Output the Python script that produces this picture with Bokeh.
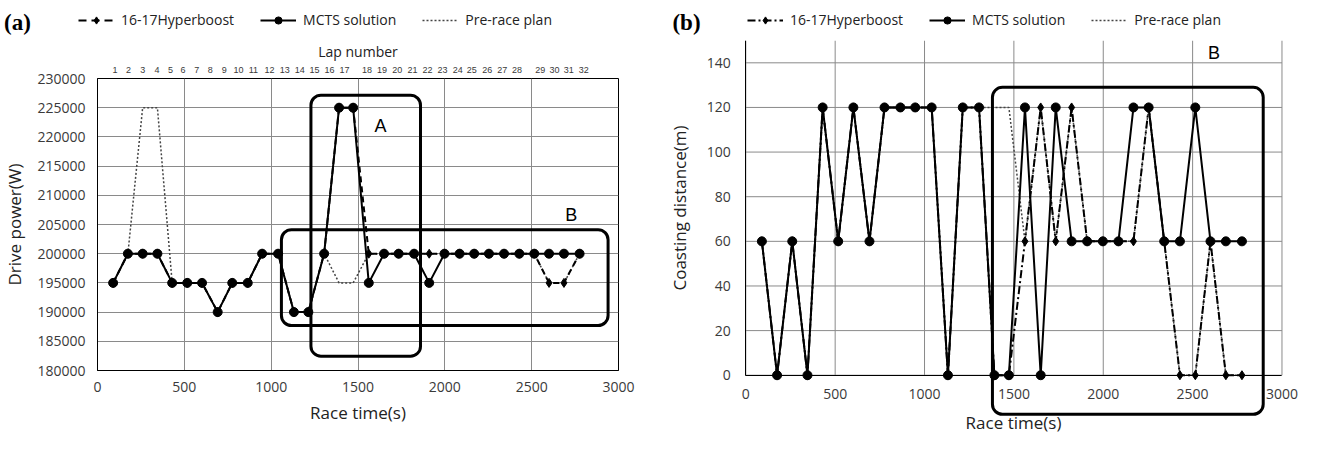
from bokeh.plotting import figure
from bokeh.models import (Range1d, FixedTicker, LinearAxis, BoxAnnotation, Label,
                          Legend, LegendItem, BasicTickFormatter)
from bokeh.layouts import row, column
from bokeh.embed import file_html
from bokeh.resources import INLINE

# ---------------- data ----------------
lap_times = [90, 175, 260, 345, 430, 517, 602, 692, 776, 865, 948, 1040, 1131, 1214, 1305, 1391,
             1472, 1562, 1650, 1734, 1823, 1910, 1998, 2085, 2169, 2254, 2341, 2429, 2515, 2600, 2686, 2776]
lap_numbers = [str(i) for i in range(1, 33)]
lap_label_x = [101, 178, 260, 342, 420, 493, 571, 649, 730, 812, 898, 990, 1078, 1164, 1250, 1336,
               1423, 1552, 1638, 1726, 1814, 1900, 1986, 2074, 2155, 2244, 2330, 2415, 2550, 2632, 2714, 2800]

power_mcts = [195000, 200000, 200000, 200000, 195000, 195000, 195000, 190000, 195000, 195000, 200000,
              200000, 190000, 190000, 200000, 225000, 225000, 195000, 200000, 200000, 200000, 195000,
              200000, 200000, 200000, 200000, 200000, 200000, 200000, 200000, 200000, 200000]
power_hyper = [195000, 200000, 200000, 200000, 195000, 195000, 195000, 190000, 195000, 195000, 200000,
               200000, 190000, 190000, 200000, 225000, 225000, 200000, 200000, 200000, 200000, 200000,
               200000, 200000, 200000, 200000, 200000, 200000, 200000, 195000, 195000, 200000]
power_plan = [195000, 200000, 225000, 225000, 195000, 195000, 195000, 190000, 195000, 195000, 200000,
              200000, 190000, 190000, 200000, 195000, 195000, 200000, 200000, 200000, 200000, 200000,
              200000, 200000, 200000, 200000, 200000, 200000, 200000, 195000, 195000, 200000]

coast_mcts = [60, 0, 60, 0, 120, 60, 120, 60, 120, 120, 120, 120, 0, 120, 120, 0,
              0, 120, 0, 120, 60, 60, 60, 60, 120, 120, 60, 60, 120, 60, 60, 60]
coast_hyper = [60, 0, 60, 0, 120, 60, 120, 60, 120, 120, 120, 120, 0, 120, 120, 0,
               0, 60, 120, 60, 120, 60, 60, 60, 60, 120, 60, 0, 0, 60, 0, 0]
coast_plan = [60, 0, 60, 0, 120, 60, 120, 60, 120, 120, 120, 120, 0, 120, 120, 120,
              120, 60, 120, 60, 120, 60, 60, 60, 60, 120, 60, 0, 0, 60, 0, 0]

x_ticks = [0, 500, 1000, 1500, 2000, 2500, 3000]
a_y_ticks = [180000, 185000, 190000, 195000, 200000, 205000, 210000, 215000, 220000, 225000, 230000]
b_y_ticks = [0, 20, 40, 60, 80, 100, 120, 140]
x_max = 3000
b_y_top = 150

series_names = ["16-17Hyperboost", "MCTS solution", "Pre-race plan"]

# annotation boxes (left, right, bottom, top) in data units
a_box_A = (1229, 1860, 182450, 227150)
a_box_B = (1059, 2940, 187700, 204100)
b_box_B = (1380, 2895, -17.5, 129)

# off-canvas anchor for the legend sample glyphs in the header strips
legend_anchor = [-1.0]

FONT = "Open Sans"
GRID = "#8a8a8a"
TXT = "#3a3a3a"


def style_axes(p):
    for ax in p.xaxis + p.yaxis:
        ax.major_tick_line_color = None
        ax.minor_tick_line_color = None
        ax.major_tick_out = 0
        ax.major_tick_in = 0
        ax.major_label_text_font = FONT
        ax.major_label_text_font_size = "14px"
        ax.major_label_text_color = TXT
        ax.axis_label_text_font = FONT
        ax.axis_label_text_font_size = "17px"
        ax.axis_label_text_font_style = "normal"
        ax.axis_label_text_color = "#222222"
        ax.axis_line_color = "black"


def make_header(tag, tag_x, legend_x, dash):
    h = figure(width=652, height=36, output_backend="svg", toolbar_location=None,
               x_range=Range1d(0, 1), y_range=Range1d(0, 1), x_axis_location=None,
               y_axis_location=None, min_border=0, frame_align=False)
    h.outline_line_color = None
    h.grid.visible = False
    r_h = h.line(legend_anchor, legend_anchor, line_color="black", line_width=2, line_dash=dash)
    r_hm = h.scatter(legend_anchor, legend_anchor, marker="diamond", size=9, color="black")
    r_m = h.line(legend_anchor, legend_anchor, line_color="black", line_width=2)
    r_mm = h.scatter(legend_anchor, legend_anchor, marker="circle", size=9, color="black")
    r_p = h.line(legend_anchor, legend_anchor, line_color="#444444", line_width=1.5, line_dash="2 2")
    leg = Legend(items=[LegendItem(label=series_names[0], renderers=[r_h, r_hm]),
                        LegendItem(label=series_names[1], renderers=[r_m, r_mm]),
                        LegendItem(label=series_names[2], renderers=[r_p])],
                 location=(legend_x, 7), orientation="horizontal",
                 glyph_width=36, glyph_height=18, label_standoff=7, spacing=26,
                 padding=0, margin=0, label_text_font=FONT, label_text_font_size="14px",
                 label_text_color="#222222", background_fill_alpha=0, border_line_alpha=0)
    h.add_layout(leg, "center")
    h.add_layout(Label(x=tag_x, y=14, x_units="screen", y_units="screen", text=tag,
                       text_font="Liberation Serif", text_font_size="23px", text_font_style="bold",
                       text_align="center", text_baseline="middle", text_color="black"))
    return h


# ---------------- panel (a) ----------------
ha = make_header("(a)", 17, 78, "8 5")

pa = figure(width=652, height=400, output_backend="svg", toolbar_location=None,
            x_range=Range1d(0, x_max), y_range=Range1d(180000, 230000), frame_align=False,
            min_border_left=93, min_border_right=34, min_border_top=42, min_border_bottom=66)
pa.xaxis.ticker = FixedTicker(ticks=x_ticks)
pa.yaxis.ticker = FixedTicker(ticks=a_y_ticks)
pa.yaxis.formatter = BasicTickFormatter(use_scientific=False)
pa.xaxis.axis_label = "Race time(s)"
pa.yaxis.axis_label = "Drive power(W)"
style_axes(pa)
pa.xaxis.major_label_standoff = 11
pa.xaxis.axis_label_standoff = 6
pa.yaxis.major_label_standoff = 12
pa.yaxis.axis_label_standoff = 8
pa.outline_line_color = "black"
pa.outline_line_width = 1
pa.xgrid.ticker = FixedTicker(ticks=x_ticks)
pa.ygrid.ticker = FixedTicker(ticks=a_y_ticks)
pa.grid.grid_line_color = GRID
pa.grid.grid_line_width = 1

top = LinearAxis(ticker=FixedTicker(ticks=lap_label_x),
                 major_label_overrides={v: n for v, n in zip(lap_label_x, lap_numbers)},
                 axis_label="Lap number")
top.axis_line_color = None
top.major_tick_line_color = None
top.minor_tick_line_color = None
top.major_tick_out = 0
top.major_tick_in = 0
top.major_label_standoff = 6
top.major_label_text_font = "Liberation Sans"
top.major_label_text_font_size = "9px"
top.major_label_text_color = TXT
top.axis_label_text_font = FONT
top.axis_label_text_font_size = "14px"
top.axis_label_text_font_style = "normal"
top.axis_label_text_color = "#222222"
top.axis_label_standoff = 3
pa.add_layout(top, "above")

pa.line(lap_times, power_plan, line_color="#444444", line_width=1.5, line_dash="2 2")
pa.line(lap_times, power_hyper, line_color="black", line_width=2, line_dash="6 4")
pa.scatter(lap_times, power_hyper, marker="diamond", size=9, color="black")
pa.line(lap_times, power_mcts, line_color="black", line_width=2)
pa.scatter(lap_times, power_mcts, marker="circle", size=9, color="black")

for (l, r, b, t) in (a_box_A, a_box_B):
    pa.add_layout(BoxAnnotation(left=l, right=r, bottom=b, top=t, fill_color=None, fill_alpha=0,
                                line_color="black", line_alpha=1, line_width=3, border_radius=10))
pa.add_layout(Label(x=1630, y=221850, text="A", text_font="Liberation Sans", text_font_size="18px",
                    text_align="center", text_baseline="middle", text_color="black"))
pa.add_layout(Label(x=2728, y=206560, text="B", text_font="Liberation Sans", text_font_size="18px",
                    text_align="center", text_baseline="middle", text_color="black"))

# ---------------- panel (b) ----------------
hb = make_header("(b)", 34, 95, "8 3 2 3")

pb = figure(width=652, height=405, output_backend="svg", toolbar_location=None,
            x_range=Range1d(-522, 3126), y_range=Range1d(-28.8, b_y_top), frame_align=False,
            min_border_left=0, min_border_right=0, min_border_top=4, min_border_bottom=2)
pb.xaxis.ticker = FixedTicker(ticks=x_ticks)
pb.yaxis.ticker = FixedTicker(ticks=b_y_ticks)
pb.xaxis.axis_label = "Race time(s)"
pb.yaxis.axis_label = "Coasting distance(m)"
style_axes(pb)
pb.xaxis.fixed_location = 0
pb.yaxis.fixed_location = 0
pb.xaxis.bounds = (0, x_max)
pb.yaxis.bounds = (0, b_y_top)
pb.xaxis.major_label_standoff = 14
pb.xaxis.axis_label_standoff = 8
pb.yaxis.major_label_standoff = 15
pb.yaxis.axis_label_standoff = 12
pb.outline_line_color = None
pb.grid.visible = False
# grid lines limited to the value area (0 .. x_max, 0 .. top)
pb.segment(x0=[0] * len(b_y_ticks), y0=b_y_ticks, x1=[x_max] * len(b_y_ticks), y1=b_y_ticks,
           line_color=GRID, line_width=1)
pb.segment(x0=x_ticks, y0=[0] * len(x_ticks), x1=x_ticks, y1=[b_y_top] * len(x_ticks),
           line_color=GRID, line_width=1)

pb.line(lap_times, coast_plan, line_color="#444444", line_width=1.5, line_dash="2 2")
pb.line(lap_times, coast_hyper, line_color="black", line_width=2, line_dash="8 3 2 3")
pb.scatter(lap_times, coast_hyper, marker="diamond", size=9, color="black")
pb.line(lap_times, coast_mcts, line_color="black", line_width=2)
pb.scatter(lap_times, coast_mcts, marker="circle", size=9, color="black")

l, r, b, t = b_box_B
pb.add_layout(BoxAnnotation(left=l, right=r, bottom=b, top=t, fill_color=None, fill_alpha=0,
                            line_color="black", line_alpha=1, line_width=3, border_radius=10))
pb.add_layout(Label(x=2620, y=144.5, text="B", text_font="Liberation Sans", text_font_size="18px",
                    text_align="center", text_baseline="middle", text_color="black"))

layout = row(column(ha, pa), column(hb, pb))
open("out.html", "w").write(file_html(layout, INLINE))
